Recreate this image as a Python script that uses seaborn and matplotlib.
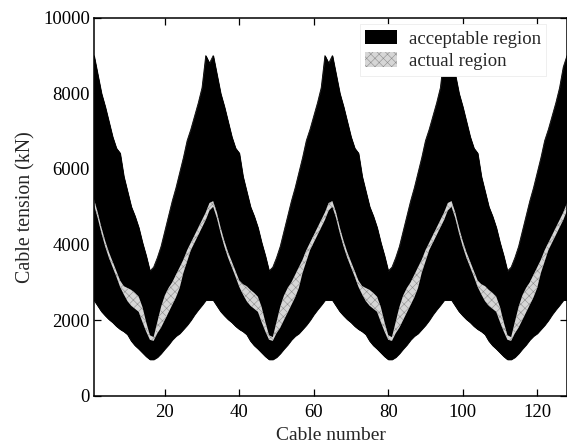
import matplotlib
matplotlib.use("Agg")
import matplotlib.pyplot as plt
import pandas as pd
import seaborn as sns
from matplotlib.patches import Patch

# Cable numbers along the bridge (four fans of 32 cables)
cable = list(range(1, 129))

# Acceptable tension envelope (kN)
acc_hi = [
    9000, 8500, 8000, 7650, 7250, 6850, 6550, 6420, 5800, 5400, 5000, 4750, 4450, 4050, 3700, 3300,
    3400, 3650, 3950, 4350, 4750, 5150, 5500, 5900, 6300, 6750, 7050, 7400, 7750, 8150, 9000, 8800,
    9000, 8500, 8000, 7650, 7250, 6850, 6550, 6420, 5800, 5400, 5000, 4750, 4450, 4050, 3700, 3300,
    3400, 3650, 3950, 4350, 4750, 5150, 5500, 5900, 6300, 6750, 7050, 7400, 7750, 8150, 9000, 8800,
    9000, 8500, 8000, 7650, 7250, 6850, 6550, 6420, 5800, 5400, 5000, 4750, 4450, 4050, 3700, 3300,
    3400, 3650, 3950, 4350, 4750, 5150, 5500, 5900, 6300, 6750, 7050, 7400, 7750, 8150, 9000, 8800,
    9000, 8500, 8000, 7650, 7250, 6850, 6550, 6420, 5800, 5400, 5000, 4750, 4450, 4050, 3700, 3300,
    3400, 3650, 3950, 4350, 4750, 5150, 5500, 5900, 6300, 6750, 7050, 7400, 7750, 8150, 8700, 9000,
]
acc_lo = [
    2530, 2380, 2230, 2120, 2020, 1940, 1840, 1760, 1700, 1620, 1450, 1330, 1240, 1140, 1040, 960,
    960, 1020, 1120, 1240, 1350, 1480, 1580, 1650, 1760, 1870, 2000, 2150, 2280, 2400, 2530, 2530,
    2530, 2380, 2230, 2120, 2020, 1940, 1840, 1760, 1700, 1620, 1450, 1330, 1240, 1140, 1040, 960,
    960, 1020, 1120, 1240, 1350, 1480, 1580, 1650, 1760, 1870, 2000, 2150, 2280, 2400, 2530, 2530,
    2530, 2380, 2230, 2120, 2020, 1940, 1840, 1760, 1700, 1620, 1450, 1330, 1240, 1140, 1040, 960,
    960, 1020, 1120, 1240, 1350, 1480, 1580, 1650, 1760, 1870, 2000, 2150, 2280, 2400, 2530, 2530,
    2530, 2380, 2230, 2120, 2020, 1940, 1840, 1760, 1700, 1620, 1450, 1330, 1240, 1140, 1040, 960,
    960, 1020, 1120, 1240, 1350, 1480, 1580, 1650, 1760, 1870, 2000, 2150, 2280, 2400, 2530, 2530,
]

# Actual tension range (kN)
act_hi = [
    5200, 4850, 4450, 4100, 3800, 3550, 3300, 3050, 2900, 2850, 2800, 2720, 2620, 2350, 1950, 1600,
    1550, 1950, 2350, 2650, 2850, 3000, 3200, 3400, 3600, 3850, 4050, 4250, 4450, 4650, 4850, 5100,
    5150, 4850, 4450, 4100, 3800, 3550, 3300, 3050, 2950, 2900, 2800, 2720, 2620, 2350, 1950, 1600,
    1550, 1950, 2350, 2650, 2850, 3000, 3200, 3400, 3600, 3850, 4050, 4250, 4450, 4650, 4850, 5100,
    5150, 4850, 4450, 4100, 3800, 3550, 3300, 3050, 2900, 2850, 2800, 2720, 2620, 2350, 1950, 1600,
    1550, 1950, 2350, 2650, 2850, 3000, 3200, 3400, 3600, 3850, 4050, 4250, 4450, 4650, 4850, 5100,
    5150, 4850, 4450, 4100, 3800, 3550, 3300, 3050, 2950, 2900, 2800, 2720, 2620, 2350, 1950, 1600,
    1550, 1950, 2350, 2650, 2850, 3000, 3200, 3400, 3600, 3850, 4050, 4250, 4450, 4650, 4850, 5100,
]
act_lo = [
    5050, 4700, 4300, 3950, 3650, 3400, 3150, 2880, 2680, 2500, 2380, 2300, 2220, 1950, 1700, 1480,
    1450, 1650, 1800, 2000, 2200, 2400, 2600, 2850, 3250, 3550, 3850, 4050, 4250, 4450, 4650, 4900,
    5000, 4700, 4300, 3950, 3650, 3400, 3150, 2880, 2680, 2500, 2380, 2300, 2220, 1950, 1700, 1480,
    1450, 1650, 1800, 2000, 2200, 2400, 2600, 2850, 3250, 3550, 3850, 4050, 4250, 4450, 4650, 4900,
    5000, 4700, 4300, 3950, 3650, 3400, 3150, 2880, 2680, 2500, 2380, 2300, 2220, 1950, 1700, 1480,
    1450, 1650, 1800, 2000, 2200, 2400, 2600, 2850, 3250, 3550, 3850, 4050, 4250, 4450, 4650, 4900,
    5000, 4700, 4300, 3950, 3650, 3400, 3150, 2880, 2680, 2500, 2380, 2300, 2220, 1950, 1700, 1480,
    1450, 1650, 1800, 2000, 2200, 2400, 2600, 2850, 3250, 3550, 3850, 4050, 4250, 4450, 4650, 4900,
]

x_ticks = [20, 40, 60, 80, 100, 120]
y_ticks = [0, 2000, 4000, 6000, 8000, 10000]
legend_labels = ["acceptable region", "actual region"]

df = pd.DataFrame({"cable": cable, "acc_hi": acc_hi, "acc_lo": acc_lo,
                   "act_hi": act_hi, "act_lo": act_lo})

sns.set_style("ticks")
plt.rcParams["font.family"] = ["Liberation Serif", "DejaVu Serif"]
plt.rcParams["hatch.linewidth"] = 0.4

GREY_FACE = "#d6d6d6"
GREY_HATCH = "#8e8e8e"

fig = plt.figure(figsize=(5.67, 4.46), dpi=100)
ax = fig.add_axes([0.1658, 0.1128, 0.8342, 0.8472])

# acceptable envelope: solid black band
ax.fill_between(df["cable"], df["acc_lo"], df["acc_hi"], color="black", lw=0.6)
sns.lineplot(data=df, x="cable", y="acc_hi", color="black", lw=0.6, ax=ax)
sns.lineplot(data=df, x="cable", y="acc_lo", color="black", lw=0.6, ax=ax)

# actual tensions: light textured band on top
ax.fill_between(df["cable"], df["act_lo"], df["act_hi"], facecolor=GREY_FACE,
                edgecolor=GREY_HATCH, hatch="xxxx", lw=0)

ax.set_xlim(1, 128)
ax.set_ylim(0, 10000)
ax.set_xticks(x_ticks)
ax.set_yticks(y_ticks)
ax.tick_params(direction="in", top=True, right=True, length=5, width=0.9,
               labelsize=13.5, colors="black")
ax.tick_params(axis="x", pad=6)
ax.tick_params(axis="y", pad=3)
for s in ax.spines.values():
    s.set_linewidth(1.1)
    s.set_color("black")

ax.set_xlabel("Cable number", fontsize=14, labelpad=4)
ax.set_ylabel("Cable tension (kN)", fontsize=14.3, labelpad=5.5)

handles = [Patch(facecolor="black", edgecolor="black", lw=0),
           Patch(facecolor=GREY_FACE, edgecolor=GREY_HATCH, hatch="xxxx", lw=0)]
leg = ax.legend(handles, legend_labels, loc="upper left", bbox_to_anchor=(0.562, 0.983),
                borderaxespad=0, fontsize=13.5, frameon=True, fancybox=False,
                handlelength=1.7, handleheight=0.8, handletextpad=0.6,
                labelspacing=0.25, borderpad=0.3)
leg.get_frame().set_facecolor("white")
leg.get_frame().set_edgecolor("#ececec")
leg.get_frame().set_linewidth(0.6)
leg.get_frame().set_alpha(1)

fig.savefig("out.png", dpi=100)
